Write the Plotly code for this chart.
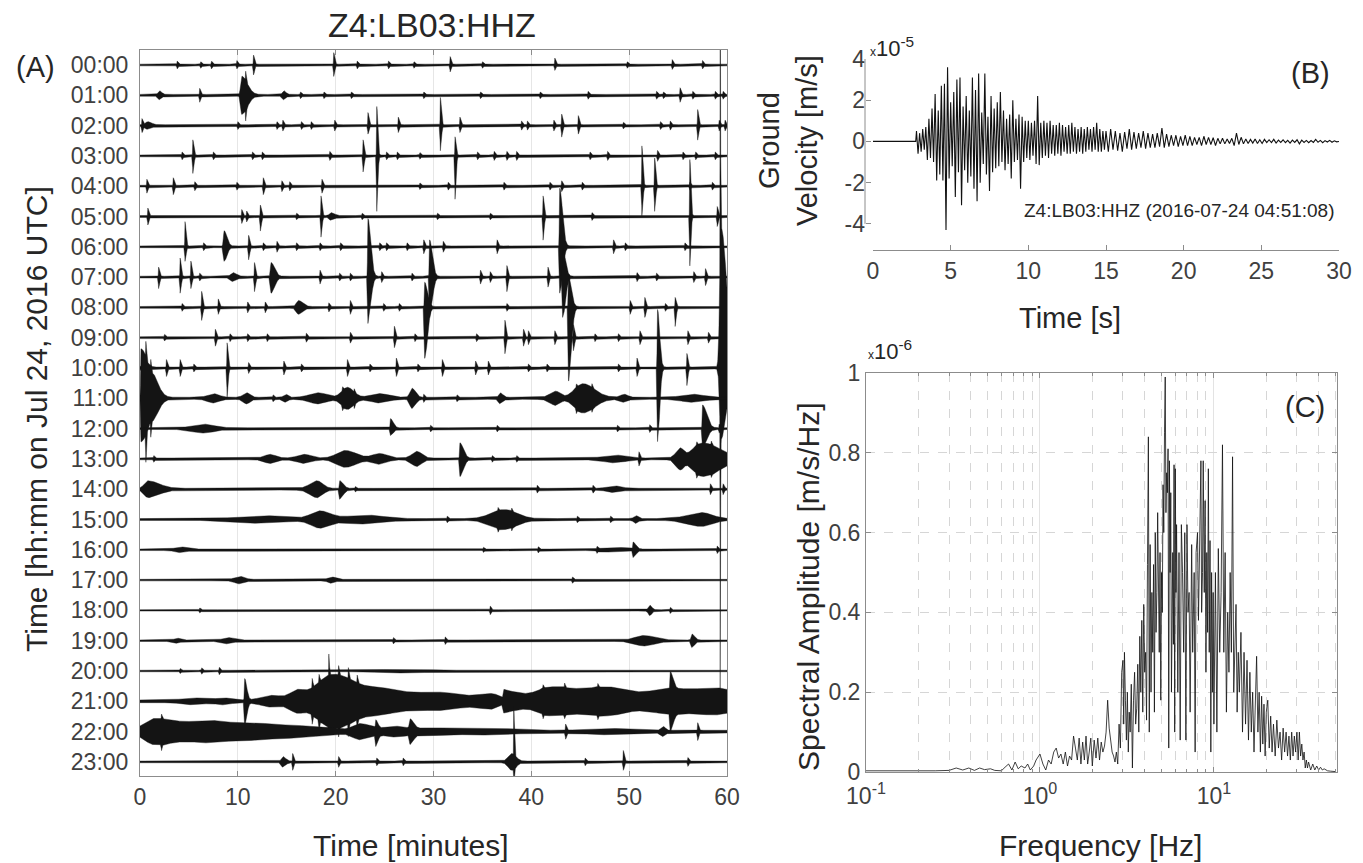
import numpy as np
import plotly.graph_objects as go

W, H = 1363, 863
def px(x):
    return x / W
def py(y):
    return 1 - y / H

FONT = "Liberation Sans, Arial, sans-serif"
TXT = "#262626"
TICK = "#404040"

# ---------------- Panel A : 24 h helicorder ----------------
HOUR_LABELS = [f"{h:02d}:00" for h in range(24)]
MINUTE_TICKS = [0, 10, 20, 30, 40, 50, 60]
BASE_NOISE = [0.028, 0.03, 0.03, 0.03, 0.03, 0.03, 0.03, 0.03, 0.03, 0.03, 0.03, 0.035,
              0.028, 0.03, 0.03, 0.03, 0.025, 0.025, 0.022, 0.025, 0.025, 0.045, 0.045, 0.028]

# events: (minute, amplitude up, amplitude down [, rise, decay]) in trace-spacing units
EV00 = [(3.8,.1,.1),(6.2,.08,.08),(7.3,.1,.1),(9.9,.12,.1),(11.6,.3,.3),(19.8,.38,.35),(22.2,.1,.1),
        (25.4,.1,.1),(28.0,.08,.08),(31.7,.25,.2),(35.0,.08,.08),(42.4,.2,.15),(49.8,.08,.08),
        (54.4,.15,.12),(57.5,.12,.1)]
EV01 = [(2.0,.12,.12,.2,.3),(6.1,.2,.2),(10.4,.6,.6,.15,.8),(10.8,.3,.35,.03,.1),(14.7,.12,.12,.2,.3),
        (16.4,.08,.08),(18.8,.08,.08),(21.6,.08,.08),(29.0,.08,.08),(34.8,.08,.08),(40.9,.08,.08),
        (45.8,.1,.1),(52.8,.1,.1),(53.5,.08,.08),(55.2,.22,.2),(56.5,.1,.1),(58.8,.1,.1),(59.6,.1,.1)]
EV02 = [(0.2,.2,.2),(0.8,.1,.1,.3,.5),(10.0,.1,.1),(14.0,.1,.1),(14.6,.15,.15),(16.5,.1,.1),
        (17.5,.1,.1),(19.9,.15,.15),(23.3,.4,.25),(26.4,.25,.2),(30.7,.9,.8),(32.7,.25,.2),
        (39.0,.12,.12),(39.6,.12,.12),(42.3,.15,.15),(43.1,.35,.35),(44.8,.3,.25),(49.4,.08,.08),
        (53.2,.1,.1),(54.2,.12,.12),(57.0,.5,.45),(59.2,.15,.15),(59.8,.15,.15)]
EV03 = [(4.3,.1,.1),(5.4,.5,.55),(7.5,.1,.1),(11.5,.1,.1),(12.5,.1,.1),(19.4,.12,.12),(22.8,.5,.5),
        (24.2,1.6,1.8),(25.2,.1,.1),(26.3,.1,.1),(28.6,.08,.08),(32.2,.6,1.4),(34.5,.1,.1),
        (36.2,.12,.12),(37.5,.12,.12),(38.5,.12,.12),(46.0,.1,.1),(47.8,.12,.12),(52.9,.15,.15),
        (55.5,.1,.1),(56.8,.1,.1),(58.8,.1,.1)]
EV04 = [(0.7,.2,.2),(3.4,.25,.25),(5.6,.12,.12),(9.9,.1,.1),(12.6,.25,.25),(14.5,.15,.15),
        (15.3,.12,.12),(18.6,.2,.2),(28.6,.08,.08),(31.5,.1,.1),(37.2,.1,.1),(41.9,.1,.1),
        (43.1,.15,.15),(45.2,.1,.1),(51.3,1.3,.95),(52.6,.9,.8),(56.2,.1,.1),(58.5,.1,.1)]
EV05 = [(0.8,.25,.25),(10.4,.2,.2),(10.9,.15,.15),(12.3,.35,.45),(16.0,.08,.08),(18.5,.65,.65),
        (19.5,.1,.1,.2,.5),(22.7,.08,.08),(30.4,.08,.08),(35.8,.08,.08),(41.2,.65,.75),(46.2,.1,.1),
        (56.2,1.85,1.6),(59.0,.3,.3)]
EV06 = [(4.6,.8,.45),(6.5,.1,.1),(8.6,.5,.45,.1,.4),(11.1,.35,.4),(12.6,.1,.1),(14.0,.15,.15),
        (16.0,.1,.1),(18.4,.1,.1),(20.5,.1,.1),(24.5,.1,.1),(25.2,.1,.1),(27.3,.1,.1),(29.0,.2,.2),
        (31.0,.15,.15),(36.5,.2,.2),(42.9,1.9,1.5,.05,.4),(48.4,.2,.2),(49.6,.1,.1),(55.7,.1,.1)]
EV07 = [(1.9,.3,.35),(4.1,.6,.5),(5.2,.5,.35),(6.1,.1,.1),(9.5,.12,.12,.3,.5),(11.7,.45,.45),
        (13.4,.45,.5,.1,.5),(18.4,.2,.2),(20.4,.1,.1),(21.5,.1,.1),(23.3,1.9,1.5,.05,.4),
        (24.7,.15,.15),(27.8,.1,.1),(29.6,1.2,1.3,.05,.4),(34.8,.2,.2),(35.8,.15,.15),
        (37.5,.35,.45),(41.7,.3,.3),(43.2,.9,1.3,.05,.4),(50.8,.12,.12),(52.8,.1,.1),
        (56.6,.15,.15),(57.8,.25,.25)]
EV08 = [(4.3,.1,.1),(6.3,.5,.4),(8.0,.25,.2),(11.0,.15,.15),(12.8,.15,.15),(16.2,.2,.2,.3,.6),
        (19.3,.12,.12),(21.5,.2,.2),(24.9,.1,.1),(26.5,.1,.1),(29.1,.8,1.65,.05,.4),(37.5,.1,.1),
        (43.8,1.0,2.4,.05,.4),(50.1,.2,.2),(51.6,.3,.3),(53.7,.1,.1),(54.7,.3,.6)]
EV09 = [(2.5,.08,.08),(7.7,.25,.25),(9.2,.1,.1),(11.0,.1,.1),(13.0,.1,.1),(17.0,.12,.12),
        (21.5,.15,.15),(26.0,.35,.3),(28.1,.1,.1),(34.4,.1,.1),(37.3,.55,.5),(39.2,.25,.25),
        (39.7,.2,.2),(42.4,.2,.2),(44.3,.4,.4),(46.5,.1,.1),(48.9,.1,.1),(51.1,.2,.2),
        (56.0,.2,.2),(58.1,.15,.15)]
EV10 = [(0.5,.2,.2,.3,.5),(2.7,.25,.25),(4.1,.25,.25),(5.5,.1,.1),(8.9,.8,.95),(11.1,.15,.15),
        (14.7,.2,.2),(16.5,.1,.1),(21.2,.25,.25),(23.5,.1,.1),(26.2,.3,.25),(28.4,.1,.1),
        (30.9,.25,.25),(34.3,.2,.2),(35.6,.2,.2),(39.7,.1,.1),(41.6,.1,.1),(48.9,.1,.1),
        (50.8,.3,.25),(52.9,1.9,2.4,.05,.3),(55.9,.45,.55),(59.4,4.6,2.3,.2,.8),
        (59.3,10.5,9.1,.02,.05)]
EV11 = [(0.1,1.6,1.4,.05,1.2),(0.6,.5,.9,.03,.1),(1.1,.4,.5,.03,.1),(1.5,.3,.3,.3,.8),
        (7.5,.12,.12,.8,.8),(10.9,.15,.15,.5,.5),(13.6,.08,.08),(14.9,.1,.1,.3,.3),
        (18.2,.15,.15,1.2,1.2),(21.2,.33,.33,.8,.9),(20.7,.12,.15,.03,.1),(21.9,.1,.12,.03,.1),
        (24.5,.12,.12,1.2,1.2),(27.8,.3,.3,.3,.5),(29.0,.1,.1),(32.4,.08,.08),(36.8,.15,.15,.2,.4),
        (42.5,.2,.2,.8,.6),(45.3,.45,.45,1.2,1.6),(44.6,.12,.15,.03,.1),(46.2,.12,.1,.03,.1),
        (49.5,.1,.1,.5,.5),(56.5,.1,.1,1.5,1.5)]
EV12 = [(6.5,.12,.12,1.5,1.5),(25.6,.3,.2,.05,.4),(29.7,.08,.08),(36.5,.08,.08),(48.8,.08,.08),
        (52.1,.1,.1),(57.5,.75,.6,.05,.6),(59.2,.12,.12)]
EV13 = [(1.4,.08,.08),(13.3,.12,.12,.8,.8),(16.8,.12,.12,1.0,1.0),(21.0,.25,.25,1.2,1.5),
        (24.5,.15,.15,1.0,1.0),(28.3,.22,.22,.7,.7),(32.7,.5,.55,.05,.5),(36.0,.08,.08),
        (38.5,.08,.08),(48.5,.1,.1,1.5,1.5),(51.0,.2,.2),(55.2,.3,.3,.6,.5),(57.5,.5,.55,1.4,2.5),
        (56.9,.12,.15,.03,.1),(58.4,.12,.1,.03,.1)]
EV14 = [(0.8,.25,.25,.5,1.6),(18.1,.25,.25,1.0,.8),(20.4,.25,.3,.05,.5),(22.0,.06,.06),
        (40.6,.1,.1),(46.3,.1,.1),(48.5,.08,.08,1.0,1.0),(58.3,.15,.15),(59.6,.15,.15)]
EV15 = [(12.5,.1,.1,3.0,3.0),(18.4,.25,.25,1.3,1.5),(23.0,.12,.12,2.5,2.5),(31.4,.08,.08),
        (37.2,.3,.3,1.8,1.8),(36.6,.1,.12,.03,.1),(38.0,.1,.1,.03,.1),(44.7,.08,.08),(48.1,.08,.08),
        (50.7,.1,.1,.3,.3),(57.4,.2,.2,2.0,1.5)]
EV16 = [(4.2,.07,.07,.8,.8),(35.1,.06,.06),(40.7,.08,.08),(46.7,.08,.08),(48.5,.06,.06,1.5,1.5),
        (50.4,.22,.22,.05,.4),(59.0,.1,.1)]
EV17 = [(10.2,.1,.1,.7,.7),(19.6,.08,.08,.5,.5),(44.2,.08,.08)]
EV18 = [(6.1,.06,.06),(35.8,.12,.12),(52.1,.15,.15,.2,.3),(54.2,.08,.08)]
EV19 = [(3.8,.06,.06,.4,.4),(9.0,.08,.08,.7,.7),(25.9,.08,.08),(31.2,.1,.1),(51.5,.15,.15,1.2,1.5),
        (56.4,.2,.2,.1,.4)]
EV20 = [(4.1,.06,.06),(6.3,.08,.08),(8.1,.1,.1),(27.0,.04,.04,3.0,3.0)]
EV21 = [(5.5,.07,.07,1.5,1.5),(8.5,.07,.07,1.0,1.0),(10.7,.7,.8,.05,.3),(13.5,.15,.15,1.5,1.5),
        (16.0,.25,.25,1.0,1.0),(19.8,.85,.85,2.5,3.5),(19.3,.7,.2,.02,.08),(17.6,.3,.3,.03,.1),
        (18.3,.25,.35,.03,.1),(20.3,.3,.3,.03,.1),(21.3,.35,.4,.03,.1),(22.2,.25,.3,.03,.1),
        (25.0,.3,.3,2.0,4.0),(31.0,.22,.22,3.0,3.0),(36.0,.2,.2,2.0,1.0),(37.2,.3,.3,.1,2.5),
        (42.0,.42,.42,2.0,4.0),(41.2,.12,.15,.03,.1),(43.4,.15,.12,.03,.1),(46.8,.12,.14,.03,.1),
        (48.0,.38,.38,3.0,3.0),(54.0,.35,.35,3.0,3.0),(54.2,.55,.6,.05,.4),(59.0,.38,.38,3.0,3.0)]
EV22 = [(1.5,.38,.38,1.5,3.0),(2.2,.15,.2,.03,.1),(7.0,.3,.3,3.0,3.0),(12.0,.22,.22,3.0,3.0),
        (16.0,.12,.12,2.0,2.0),(19.0,.08,.08,2.0,2.0),(22.5,.22,.22,1.0,1.5),(24.1,.25,.35,.05,.3),
        (26.0,.12,.12,1.5,1.5),(27.6,.3,.3,.1,.5),(30.0,.08,.08,3.0,3.0),(36.0,.07,.07,3.0,3.0),
        (43.5,.2,.2),(48.0,.06,.06,3.0,3.0),(53.5,.12,.12,.3,.3),(57.0,.25,.25)]
EV23 = [(14.6,.15,.15,.2,.4),(15.6,.25,.25),(20.3,.15,.15),(24.2,.1,.1),(26.9,.1,.1),
        (38.0,.25,.25,.5,.6),(38.2,1.6,.5,.02,.1),(45.5,.1,.1),(49.4,.35,.25),(56.0,.12,.12)]
HOUR_EVENTS = [EV00, EV01, EV02, EV03, EV04, EV05, EV06, EV07, EV08, EV09, EV10, EV11,
               EV12, EV13, EV14, EV15, EV16, EV17, EV18, EV19, EV20, EV21, EV22, EV23]

# ---------------- Panel B : waveform peaks (x1e-5 m/s) ----------------
B_T_PRE = [0.0, 0.5, 1.0, 1.5, 2.0, 2.5, 2.75]
B_V_PRE = [0.0, 0.01, -0.01, 0.01, 0.0, -0.01, 0.0]
B_T0_DENSE, B_DT_DENSE = 2.8, 0.1
B_V_DENSE = [0.5,-0.6,0.4,-0.5,0.6,-0.4,0.7,-0.9,1.1,-0.8,
             1.6,-1.0,2.3,-1.9,1.5,-1.6,2.7,-1.9,2.8,-4.3,
             3.6,-1.8,1.9,-1.2,2.4,-2.7,3.0,-1.5,3.1,-3.1,
             1.7,-1.4,2.2,-2.0,1.5,-1.7,3.1,-2.3,2.5,-2.9,
             3.3,-2.0,1.4,-1.1,3.3,-1.6,1.2,-2.4,2.2,-1.5,
             1.6,-1.3,1.9,-1.2,2.4,-1.0,1.5,-1.4,1.1,-1.1,
             1.3,-1.8,2.0,-1.0,1.1,-0.9,1.3,-2.3,1.2,-1.0,
             1.0,-0.8,1.0,-0.9,0.9,-0.7,1.0,-1.1,2.2,-1.15,
             0.9,-0.8,1.0,-0.7,0.9,-0.8,1.0,-0.6,0.8,-0.7,
             0.8,-0.6,0.9,-0.7,0.8,-0.5,0.7,-0.6,0.8,-0.6,
             0.9,-0.5,0.7,-0.6,0.6,-0.5,0.7,-0.6,0.6,-0.5,
             0.7,-0.4,0.6,-0.5,0.7,-0.4,0.9,-0.5,0.6,-0.5,
             0.5,-0.4]
B_T0_TAIL, B_DT_TAIL = 15.0, 0.15
B_V_TAIL = [0.5,-0.5,0.6,-0.4,0.5,-0.45,0.4,-0.5,0.45,-0.35,
            0.6,-0.4,0.45,-0.35,0.4,-0.3,0.5,-0.35,0.4,-0.3,
            0.35,-0.3,0.4,-0.25,0.65,-0.3,0.35,-0.25,0.3,-0.2,
            0.3,-0.25,0.25,-0.2,0.3,-0.2,0.25,-0.2,0.2,-0.15,
            0.2,-0.2,0.25,-0.15,0.2,-0.15,0.18,-0.2,0.15,-0.12,
            0.15,-0.12,0.12,-0.1,0.15,-0.2,0.4,-0.15,0.2,-0.12,
            0.12,-0.1,0.1,-0.08,0.12,-0.1,0.08,-0.1,0.1,-0.06,
            0.08,-0.06,0.1,-0.08,0.06,-0.05,0.08,-0.06,0.05,-0.08,
            0.06,-0.05,0.08,-0.12,0.06,-0.05,0.05,-0.06,0.04,-0.05,
            0.1,-0.04,0.05,-0.06,0.04,-0.03,0.05,-0.04,0.03,-0.02,
            0.0]
B_TICKS = [0, 5, 10, 15, 20, 25, 30]
B_YTICKS = [-4, -2, 0, 2, 4]

# ---------------- Panel C : amplitude spectrum (x1e-6 m/s/Hz) ----------------
C_F = [0.10,0.15,0.2,0.25,0.3,0.33,0.36,0.39,0.42,0.45,0.48,0.52,0.55,0.6,0.63,0.66,0.69,0.72,
       0.75,0.78,0.82,0.85,0.88,0.92,0.95,
       1.0,1.04,1.08,1.12,1.16,1.2,1.24,1.28,1.32,1.36,1.4,1.44,1.48,1.52,1.56,1.6,1.64,1.68,
       1.72,1.76,1.8,1.84,1.88,1.92,1.96,2.0,2.05,2.1,2.15,2.2,2.25,2.3,2.35,2.4,2.45,2.5,2.55,
       2.6,2.65,2.7,2.75,2.8,2.85,2.9,2.95,3.0,3.03,3.06,3.1,3.14,3.18,3.22,3.26,3.3,3.35,3.4,
       3.45,3.5,3.55,3.6,3.65,3.7,3.75,3.8,3.85,3.9,3.95,4.0,4.05,4.1,4.15,4.2,4.25,4.3,4.35,
       4.4,4.45,4.5,4.55,4.6,4.65,4.7,4.75,4.8,4.85,4.9,4.95,5.0,5.05,5.1,5.15,5.2,5.25,5.3,
       5.35,5.4,5.45,5.5,5.55,5.6,5.65,5.7,5.8,5.85,5.9,5.95,6.0,6.05,6.1,6.2,6.3,6.4,6.5,6.6,
       6.7,6.8,6.9,7.0,7.1,7.2,7.3,7.45,7.55,7.7,7.8,7.9,8.05,8.15,8.3,8.42,8.5,8.6,8.68,8.8,
       8.9,9.0,9.1,9.2,9.29,9.4,9.5,9.6,9.7,9.8,9.9,10.0,10.2,10.4,10.6,10.8,11.0,11.2,11.4,
       11.6,11.8,12.0,12.2,12.4,12.6,12.8,13.0,13.2,13.4,13.6,13.8,14.0,14.3,14.6,14.9,15.2,
       15.5,15.8,16.1,16.4,16.7,17.0,17.3,17.6,17.9,18.2,18.5,18.8,19.1,19.4,19.7,20.0,20.4,
       20.8,21.2,21.6,22.0,22.5,23.0,23.5,24.0,24.5,25.0,25.5,26.0,26.5,27.0,27.5,28.0,28.5,
       29.0,29.5,30.0,30.5,31.0,31.5,32.0,32.5,33.0,33.5,34.0,34.5,35.0,36.0,37.0,38.0,39.0,
       40.0,41.0,42.0,43.0,45.0,47.0,50.0]
C_A = [0.003,0.003,0.002,0.003,0.004,0.01,0.005,0.01,0.004,0.01,0.006,0.008,0.004,0.003,0.012,
       0.02,0.005,0.025,0.008,0.015,0.01,0.02,0.005,0.015,0.03,
       0.045,0.02,0.005,0.03,0.02,0.05,0.06,0.035,0.045,0.02,0.05,0.015,0.04,0.03,0.09,0.06,0.03,
       0.085,0.02,0.075,0.03,0.09,0.02,0.05,0.085,0.015,0.08,0.035,0.085,0.03,0.075,0.05,0.065,
       0.1,0.18,0.11,0.07,0.05,0.04,0.025,0.05,0.02,0.12,0.06,0.25,0.28,0.12,0.3,0.18,0.08,0.2,
       0.05,0.15,0.1,0.22,0.01,0.18,0.25,0.12,0.16,0.27,0.1,0.34,0.2,0.38,0.15,0.42,0.25,0.3,
       0.13,0.52,0.84,0.1,0.57,0.2,0.45,0.3,0.52,0.15,0.6,0.35,0.45,0.65,0.4,0.3,0.55,0.18,0.5,
       0.4,0.72,0.6,0.85,0.99,0.65,0.75,0.7,0.81,0.06,0.78,0.5,0.7,0.2,0.55,0.32,0.77,0.1,0.76,
       0.45,0.62,0.2,0.55,0.08,0.62,0.5,0.3,0.6,0.08,0.62,0.4,0.45,0.15,0.57,0.3,0.5,0.05,0.55,
       0.6,0.38,0.65,0.78,0.4,0.5,0.78,0.45,0.68,0.25,0.55,0.35,0.76,0.3,0.58,0.05,0.5,0.2,0.45,
       0.12,0.5,0.1,0.56,0.3,0.45,0.82,0.3,0.55,0.15,0.4,0.25,0.5,0.3,0.79,0.2,0.35,0.42,0.15,
       0.3,0.2,0.35,0.1,0.3,0.12,0.28,0.08,0.25,0.1,0.2,0.05,0.15,0.29,0.1,0.2,0.05,0.19,0.07,
       0.17,0.04,0.15,0.18,0.06,0.14,0.05,0.12,0.04,0.13,0.06,0.1,0.03,0.11,0.05,0.1,0.04,0.09,
       0.03,0.1,0.04,0.09,0.05,0.1,0.03,0.1,0.04,0.07,0.03,0.05,0.01,0.03,0.01,0.025,0.005,0.02,
       0.005,0.015,0.005,0.012,0.005,0.008,0.003,0.002,0.001]
C_YTICKS = [0, 0.2, 0.4, 0.6, 0.8, 1.0]
C_YTICKTEXT = ["0", "0.2", "0.4", "0.6", "0.8", "1"]
C_XTICKS = [0.1, 1, 10]
C_XTICKTEXT = ["10<sup>-1</sup>", "10<sup>0</sup>", "10<sup>1</sup>"]
C_MINOR = [0.2,0.3,0.4,0.5,0.6,0.7,0.8,0.9,2,3,4,5,6,7,8,9,20,30,40,50]

# ---------------- build figure ----------------
fig = go.Figure()

t = np.round(np.linspace(0, 60, 3001), 4)
def envelope(events, base):
    up = np.full_like(t, base)
    dn = np.full_like(t, base)
    for ev in events:
        t0, a_up, a_dn = ev[:3]
        rise = ev[3] if len(ev) > 3 else 0.03
        decay = ev[4] if len(ev) > 4 else 0.15
        w = np.where(t < t0, rise, decay)
        s = np.exp(-((t - t0) / w) ** 2)
        up = up + a_up * s
        dn = dn + a_dn * s
    return up, dn

for h, (evs, base) in enumerate(zip(HOUR_EVENTS, BASE_NOISE)):
    up, dn = envelope(evs, base)
    xs = np.concatenate([t, t[::-1]])
    ys = np.concatenate([-h + up, (-h - dn)[::-1]])
    fig.add_trace(go.Scatter(x=xs, y=ys, mode="lines", fill="toself", fillcolor="#141414",
                             line=dict(color="#141414", width=0.4), hoverinfo="skip",
                             showlegend=False, xaxis="x", yaxis="y"))

b_t = (B_T_PRE
       + [round(B_T0_DENSE + i * B_DT_DENSE, 3) for i in range(len(B_V_DENSE))]
       + [round(B_T0_TAIL + i * B_DT_TAIL, 3) for i in range(len(B_V_TAIL))])
b_v = B_V_PRE + B_V_DENSE + B_V_TAIL
fig.add_trace(go.Scatter(x=b_t, y=b_v, mode="lines", line=dict(color="#111111", width=1.1),
                         showlegend=False, xaxis="x2", yaxis="y2"))

fig.add_trace(go.Scatter(x=C_F, y=C_A, mode="lines", line=dict(color="#111111", width=0.8),
                         showlegend=False, xaxis="x3", yaxis="y3"))

tickfont = dict(family=FONT, size=23, color=TICK)
AX = "#8c8c8c"

fig.update_layout(
    width=W, height=H, margin=dict(l=0, r=0, t=0, b=0, autoexpand=False),
    paper_bgcolor="white", plot_bgcolor="white", showlegend=False,
    font=dict(family=FONT, color=TXT),
    xaxis=dict(domain=[px(140), px(727)], range=[0, 60], tickvals=MINUTE_TICKS,
               ticktext=[str(v) for v in MINUTE_TICKS], tickfont=tickfont, automargin=False,
               showgrid=True, gridcolor="#e6e6e6", zeroline=False,
               showline=True, linecolor=AX, mirror="ticks", ticks="inside", ticklen=5,
               tickcolor=AX, anchor="y"),
    yaxis=dict(domain=[py(776), py(50)], range=[-23.465, 0.495], automargin=False,
               tickvals=[-h for h in range(24)], ticktext=HOUR_LABELS, tickfont=tickfont,
               showgrid=False, zeroline=False, showline=True, linecolor=AX, mirror=True,
               ticks="", ticklabelstandoff=6, anchor="x"),
    xaxis2=dict(domain=[px(873), px(1339)], range=[0, 30], tickvals=B_TICKS, automargin=False,
                ticktext=[str(v) for v in B_TICKS], tickfont=tickfont, showgrid=False,
                zeroline=False, showline=True, linecolor=AX, ticks="inside", ticklen=5,
                tickcolor=AX, anchor="y2"),
    yaxis2=dict(domain=[py(250), py(59)], range=[-5.27, 4], tickvals=B_YTICKS, automargin=False,
                ticktext=[str(v) if v >= 0 else "-" + str(-v) for v in B_YTICKS],
                tickfont=tickfont, showgrid=False, zeroline=False, showline=False,
                ticks="inside", ticklen=5, tickcolor=AX, anchor="free", position=px(865)),
    xaxis3=dict(type="log", domain=[px(866), px(1337)], range=[-1, np.log10(51)],
                tickvals=C_XTICKS, ticktext=C_XTICKTEXT, tickfont=tickfont, automargin=False,
                showgrid=True, gridcolor="#e3e3e3", zeroline=False, ticklabelstandoff=3,
                minor=dict(tickvals=C_MINOR, showgrid=True, griddash="dash",
                           gridcolor="#d6d6d6", ticks="inside", ticklen=3, tickcolor=AX),
                showline=True, linecolor=AX, mirror="ticks", ticks="inside", ticklen=5,
                tickcolor=AX, anchor="y3"),
    yaxis3=dict(domain=[py(772), py(373)], range=[0, 1], tickvals=C_YTICKS, automargin=False,
                ticktext=C_YTICKTEXT, tickfont=tickfont, showgrid=True, griddash="dash",
                gridcolor="#d6d6d6", zeroline=False, showline=True, linecolor=AX,
                mirror="ticks", ticks="inside", ticklen=5, tickcolor=AX, anchor="x3"),
)

# B y-axis line from -4 to 4
fig.add_shape(type="line", xref="paper", yref="y2", x0=px(865), x1=px(865), y0=-4, y1=4,
              line=dict(color=AX, width=1))

def ann(text, x, y, size, angle=0, xanchor="center", yanchor="middle", color=TXT):
    fig.add_annotation(text=text, x=x, y=y, xref="paper", yref="paper", showarrow=False,
                       textangle=angle, xanchor=xanchor, yanchor=yanchor,
                       font=dict(family=FONT, size=size, color=color))

ann("Z4:LB03:HHZ", px(432), py(25), 34)
ann("(A)", px(35), py(67), 29)
ann("Time [hh:mm on Jul 24, 2016 UTC]", px(36), py(419), 30, angle=-90)
ann("Time [minutes]", px(411), py(845), 30)

ann("<span style='font-size:12px'>x</span>10<sup>-5</sup>", px(868), py(47), 22, xanchor="left")
ann("Ground<br>Velocity [m/s]", px(788), py(140), 29, angle=-90)
ann("Time [s]", px(1070), py(318), 29)
ann("(B)", px(1310), py(73), 29)
ann("Z4:LB03:HHZ (2016-07-24 04:51:08)", px(1337), py(210), 19, xanchor="right")

ann("<span style='font-size:12px'>x</span>10<sup>-6</sup>", px(866), py(350), 22, xanchor="left")
ann("Spectral Amplitude [m/s/Hz]", px(808), py(587), 30, angle=-90)
ann("Frequency [Hz]", px(1100), py(845), 30)
ann("(C)", px(1305), py(407), 29)

fig.write_html("out.html", config={"displayModeBar": False},
               post_script="document.body.style.margin='0';")
